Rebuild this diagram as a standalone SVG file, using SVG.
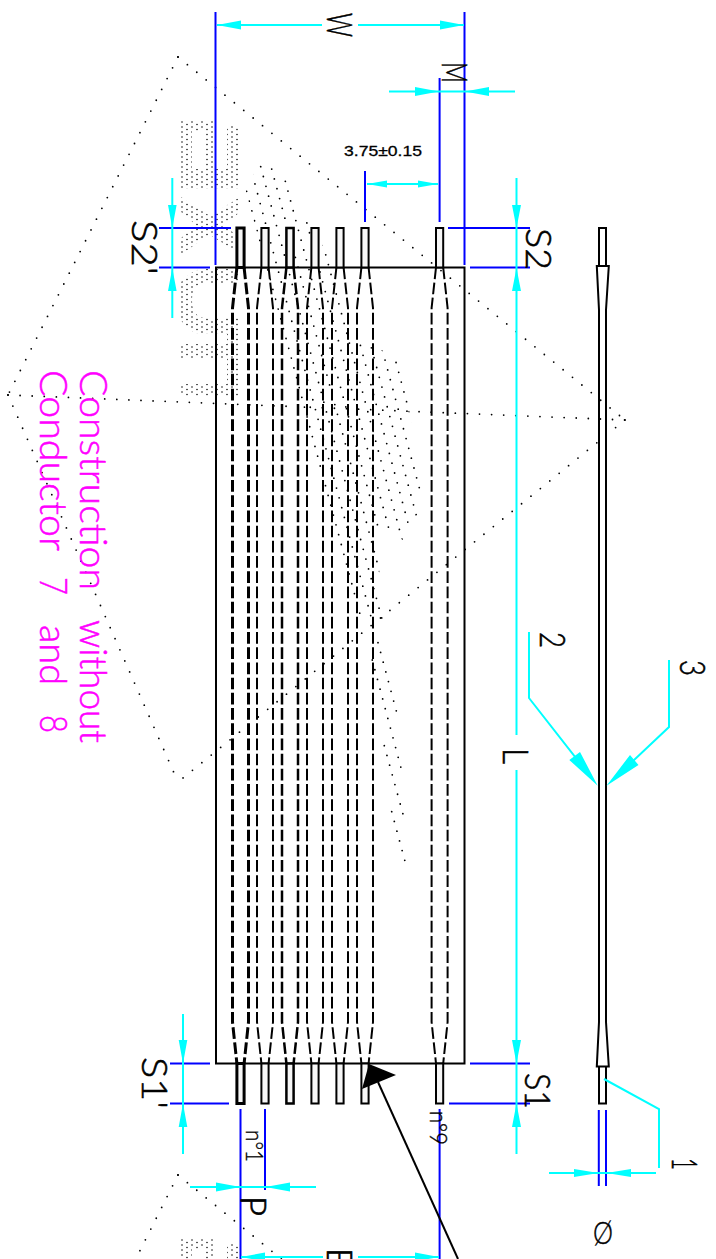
<svg xmlns="http://www.w3.org/2000/svg" width="716" height="1259" viewBox="0 0 716 1259">
<style>
.bl{stroke:#0000ff;stroke-width:2;fill:none}
.cy{stroke:#00ffff;stroke-width:2;fill:none}
.ah{fill:#00ffff;stroke:none}
.ol{stroke:#000;fill:none;stroke-width:2}
.dt{stroke:#000;stroke-width:1.8;stroke-linecap:round;stroke-dasharray:0 12.1;fill:none}
.wd{stroke:#000;stroke-width:1.5;stroke-linecap:round;stroke-dasharray:0 10;fill:none}
.ld{stroke:#000;stroke-width:1.8;stroke-linecap:round;stroke-dasharray:0 11.26;fill:none}
.lt{stroke:#000;stroke-width:1.8;stroke-linecap:round;stroke-dasharray:0 10.07;fill:none}
.cad{font-family:"Lato","Liberation Sans",sans-serif;font-weight:300;font-size:36px;fill:#000;stroke:#000;stroke-width:.6}
.sm{font-size:24px;stroke-width:.4}
.mag{font-family:"Lato","Liberation Sans",sans-serif;font-weight:300;font-size:37px;fill:#ff00ff;stroke:#ff00ff;stroke-width:.5}
.dim{font-family:"Liberation Sans",sans-serif;font-size:15px;fill:#000;stroke:#000;stroke-width:.3}
.tp{fill:none;stroke:#000;stroke-dasharray:11.7 3.5}
.st{fill:#f6f6f6;stroke:#000}
</style>
<defs>
<clipPath id="wmc">
<path clip-rule="evenodd" d="M181 121H214V169H227V126H240V189H181ZM192 131V169H205V131Z"/>
<path d="M181 197L210 216L240 197V212L224 225L240 238V254L210 235L181 254V238L196 225L181 212Z"/>
<path d="M200 269H240V283H204Q192 285 192 300Q192 316 204 318H240V334H198Q176 325 176 300Q176 277 200 269Z"/>
<rect x="181" y="344" width="59" height="14"/>
<rect x="181" y="384" width="59" height="20"/>
<rect x="227" y="318" width="13" height="86"/>
<rect x="222" y="416" width="18" height="13"/>
</clipPath>
<clipPath id="htc"><path d="M245 188L259 165H274L290 181L297 215L310 221L330 260L350 335L396 357L408 402L421 488L418 513L403 540L385 530L372 528L376 545L388 640L379 645L372 660L353 595Z"/></clipPath>
<g id="c">
<rect class="st" x="-3.6" y="228" width="7.2" height="39.5"/>
<rect class="st" x="-3.6" y="1063.5" width="7.2" height="40"/>
<path class="tp" d="M-3.6 267.5L-8 308V1022L-3.6 1063.5"/>
<path class="tp" d="M3.6 267.5L8 308V1022L3.6 1063.5"/>
</g>
<g id="wmk">
<path class="dt" d="M178 57L8 395"/>
<path class="dt" d="M178 57L625 420"/>
<path class="dt" d="M8 395L178 782"/>
<path class="dt" d="M8 395L625 420"/>
<path class="dt" d="M625 420L178 782"/>
<path class="wd" clip-path="url(#wmc)" d="M182 122h60m-55 2.500h60m-65 2.500h60m-55 2.500h60m-65 2.500h60m-55 2.500h60m-65 2.500h60m-55 2.500h60m-65 2.500h60m-55 2.500h60m-65 2.500h60m-55 2.500h60m-65 2.500h60m-55 2.500h60m-65 2.500h60m-55 2.500h60m-65 2.500h60m-55 2.500h60m-65 2.500h60m-55 2.500h60m-65 2.500h60m-55 2.500h60m-65 2.500h60m-55 2.500h60m-65 2.500h60m-55 2.500h60m-65 2.500h60m-55 2.500h60m-65 2.500h60m-55 2.500h60m-65 2.500h60m-55 2.500h60m-65 2.500h60m-55 2.500h60m-65 2.500h60m-55 2.500h60m-65 2.500h60m-55 2.500h60m-65 2.500h60m-55 2.500h60m-65 2.500h60m-55 2.500h60m-65 2.500h60m-55 2.500h60m-65 2.500h60m-55 2.500h60m-65 2.500h60m-55 2.500h60m-65 2.500h60m-55 2.500h60m-65 2.500h60m-55 2.500h60m-65 2.500h60m-55 2.500h60m-65 2.500h60m-55 2.500h60m-65 2.500h60m-55 2.500h60m-65 2.500h60m-55 2.500h60m-65 2.500h60m-55 2.500h60m-65 2.500h60m-55 2.500h60m-65 2.500h60m-55 2.500h60m-65 2.500h60m-55 2.500h60m-65 2.500h60m-55 2.500h60m-65 2.500h60m-55 2.500h60m-65 2.500h60m-55 2.500h60m-65 2.500h60m-55 2.500h60m-65 2.500h60m-55 2.500h60m-65 2.500h60m-55 2.500h60m-65 2.500h60m-55 2.500h60m-65 2.500h60m-55 2.500h60m-65 2.500h60m-55 2.500h60m-65 2.500h60m-55 2.500h60m-65 2.500h60m-55 2.500h60m-65 2.500h60m-55 2.500h60m-65 2.500h60m-55 2.500h60m-65 2.500h60m-55 2.500h60m-65 2.500h60m-55 2.500h60m-65 2.500h60m-55 2.500h60m-65 2.500h60m-55 2.500h60m-65 2.500h60m-55 2.500h60m-65 2.500h60m-55 2.500h60m-65 2.500h60m-55 2.500h60m-65 2.500h60m-55 2.500h60"/>
<path class="ld" clip-path="url(#htc)" d="M200.440 135.080l330 72m-327.370-62.190l330 72m-327.370-62.190l330 72m-327.370-62.190l330 72m-327.370-62.190l330 72m-327.370-62.190l330 72m-327.370-62.190l330 72m-327.370-62.190l330 72m-327.370-62.190l330 72m-327.370-62.190l330 72m-327.370-62.190l330 72m-327.370-62.190l330 72m-327.370-62.190l330 72m-327.370-62.190l330 72m-327.370-62.190l330 72m-327.370-62.190l330 72m-327.370-62.190l330 72m-327.370-62.190l330 72m-327.370-62.190l330 72m-327.370-62.190l330 72m-327.370-62.190l330 72m-327.370-62.190l330 72m-327.370-62.190l330 72m-327.370-62.190l330 72m-327.370-62.190l330 72m-327.370-62.190l330 72m-327.370-62.190l330 72m-327.370-62.190l330 72m-327.370-62.190l330 72m-327.370-62.190l330 72m-327.370-62.190l330 72m-327.370-62.190l330 72m-327.370-62.190l330 72m-327.370-62.190l330 72m-327.370-62.190l330 72m-327.370-62.190l330 72m-327.370-62.190l330 72m-327.370-62.190l330 72m-327.370-62.190l330 72m-327.370-62.190l330 72m-327.370-62.190l330 72m-327.370-62.190l330 72m-327.370-62.190l330 72m-327.370-62.190l330 72m-327.370-62.190l330 72m-327.370-62.190l330 72m-327.370-62.190l330 72m-327.370-62.190l330 72m-327.370-62.190l330 72"/>
<path class="lt" d="M372.300 660L401.300 769M378 642.700L396.600 712M384.300 745.700L403.500 816M391.700 811.700L405.200 862"/>
</g>
</defs>
<rect width="716" height="1259" fill="#fff"/>
<g id="watermark"><use href="#wmk"/><use href="#wmk" y="1118"/></g>
<rect id="frame" class="ol" x="216" y="267.500" width="248.500" height="796"/>
<g id="conductor-1" stroke-width="3"><use href="#c" x="240.500"/></g>
<g id="conductor-2" stroke-width="2"><use href="#c" x="265"/></g>
<g id="conductor-3" stroke-width="2.500"><use href="#c" x="290"/></g>
<g id="conductor-4" stroke-width="2"><use href="#c" x="315"/></g>
<g id="conductor-5" stroke-width="2"><use href="#c" x="340"/></g>
<g id="conductor-6" stroke-width="2"><use href="#c" x="365"/></g>
<g id="conductor-9" stroke-width="2"><use href="#c" x="439.600"/></g>
<g id="side-view" class="ol">
<path d="M599 267V228H606V267M599 1067V1103.500H606V1067"/>
<path d="M596.800 266H608.800L606 310V1022L608.800 1066.500H596.800L599 1022V310Z"/>
</g>
<g id="connectors">
<path class="bl" d="M215.500 12V265M464.500 12V265M439.600 78V222M365 171V222M159 228H231M448 228H530M159 267.500H210M470 267.500H530M170 1063.500H210M470 1063.500H530M170 1103.500H229M449 1103.500H530M240.500 1109V1259M265 1109V1190M439.600 1109V1259M598.800 1110V1186M606 1110V1186"/>
<path class="cy" d="M217 25H322M358 25H464M389 91.500H515M367 184H438M172.300 178V318M516.500 178V735M516.500 770V1154M183 1014V1154M190 1187H316M241 1257H323M358 1257H439M549 1173H656M604 1079L659 1109V1168M529 632V698L590 776M669 660V727L615 778"/>
<g class="ah">
<path d="M217 25L241 20.500V29.500ZM464 25L440 20.500V29.500Z"/>
<path d="M439 91.500L415 87V96ZM465 91.500L489 87V96Z"/>
<path d="M367 184L387 180.500V187.500ZM438 184L418 180.500V187.500Z"/>
<path d="M172.300 228L168 205H176.600ZM172.300 268L168 291H176.600Z"/>
<path d="M516.500 228L512 205H521ZM516.500 268L512 291H521Z"/>
<path d="M183 1063.500L178.700 1040H187.300ZM183 1103.500L178.700 1127H187.300Z"/>
<path d="M516.500 1063.500L512 1040H521ZM516.500 1103.500L512 1127H521Z"/>
<path d="M240.500 1187L216 1182.500V1191.500ZM265.500 1187L290 1182.500V1191.500Z"/>
<path d="M241 1257L265 1252.500V1261.500ZM439 1257L415 1252.500V1261.500Z"/>
<path d="M598.500 1173L574 1169V1177ZM606.500 1173L631 1169V1177Z"/>
<path d="M597.700 785.700L569.300 760L580 752ZM606.500 785.700L630 755L638.500 765Z"/>
</g>
<path d="M378 1082L458 1259" stroke="#000" stroke-width="2" fill="none"/>
<path d="M369 1064L396 1075L362 1089Z" fill="#000"/>
</g>
<g id="labels">
<text class="cad" transform="translate(327,13) rotate(90)" textLength="24" lengthAdjust="spacingAndGlyphs">W</text>
<text class="cad" transform="translate(442,62) rotate(90)" textLength="21" lengthAdjust="spacingAndGlyphs">M</text>
<text class="dim" x="344" y="156" textLength="78" lengthAdjust="spacingAndGlyphs">3.75±0.15</text>
<text class="cad" transform="translate(132,220) rotate(90)" textLength="55" lengthAdjust="spacingAndGlyphs">S2'</text>
<text class="cad" transform="translate(526,228) rotate(90)" textLength="42" lengthAdjust="spacingAndGlyphs">S2</text>
<text class="cad" transform="translate(142,1057) rotate(90)" textLength="52" lengthAdjust="spacingAndGlyphs">S1'</text>
<text class="cad" transform="translate(525,1073) rotate(90)" textLength="36" lengthAdjust="spacingAndGlyphs">S1</text>
<text class="cad sm" transform="translate(246,1130) rotate(90)" textLength="32" lengthAdjust="spacingAndGlyphs">n°1</text>
<text class="cad sm" transform="translate(430,1111) rotate(90)" textLength="34" lengthAdjust="spacingAndGlyphs">n°9</text>
<text class="cad" transform="translate(241,1196) rotate(90)" textLength="20" lengthAdjust="spacingAndGlyphs">P</text>
<text class="cad" transform="translate(327,1248) rotate(90)" textLength="20" lengthAdjust="spacingAndGlyphs">E</text>
<text class="cad" transform="translate(503,748) rotate(90)" textLength="16" lengthAdjust="spacingAndGlyphs">L</text>
<text class="cad" transform="translate(540,632) rotate(90)" textLength="16" lengthAdjust="spacingAndGlyphs">2</text>
<text class="cad" transform="translate(680,660) rotate(90)" textLength="16" lengthAdjust="spacingAndGlyphs">3</text>
<text class="cad" transform="translate(672,1158) rotate(90)" textLength="12" lengthAdjust="spacingAndGlyphs">1</text>
<text class="cad" x="593" y="1244" style="font-size:31px;stroke-width:.4" textLength="20" lengthAdjust="spacingAndGlyphs">Ø</text>
<text class="mag" transform="translate(80,370) rotate(90)"><tspan x="0" textLength="220" lengthAdjust="spacingAndGlyphs">Construction</tspan> <tspan x="250" textLength="123" lengthAdjust="spacingAndGlyphs">without</tspan></text>
<text class="mag" transform="translate(40,370) rotate(90)"><tspan x="0" textLength="180" lengthAdjust="spacingAndGlyphs">Conductor</tspan> <tspan x="207" textLength="18" lengthAdjust="spacingAndGlyphs">7</tspan> <tspan x="255" textLength="60" lengthAdjust="spacingAndGlyphs">and</tspan> <tspan x="345" textLength="18" lengthAdjust="spacingAndGlyphs">8</tspan></text>
</g>
</svg>
